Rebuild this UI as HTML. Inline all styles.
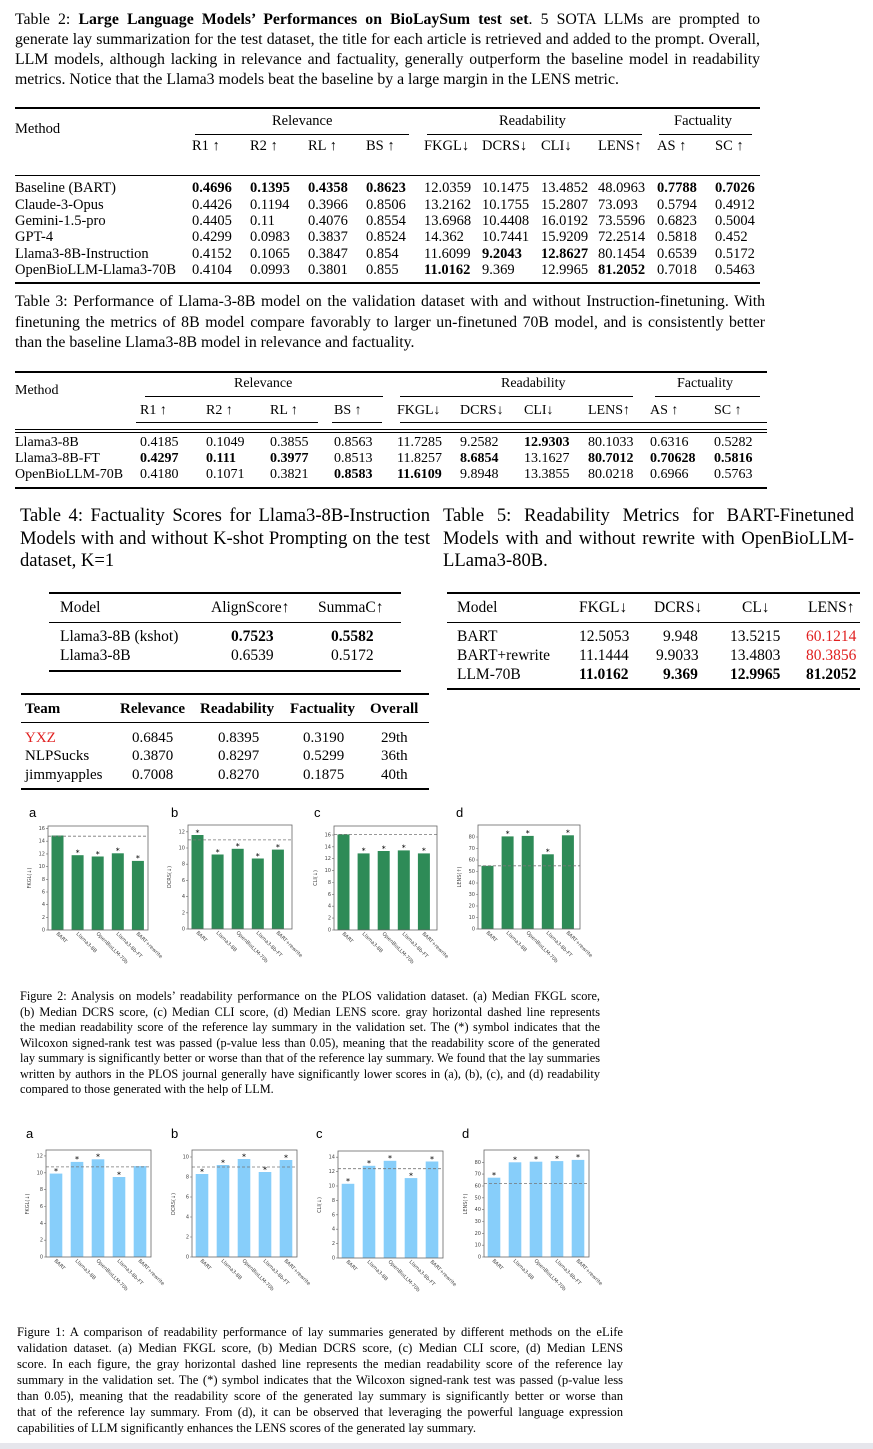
<!DOCTYPE html>
<html><head><meta charset="utf-8">
<style>
body{margin:0;width:873px;height:1449px;background:#fff;position:relative;overflow:hidden;font-family:"Liberation Serif",serif;color:#000}
.a{position:absolute;white-space:nowrap}
.l{position:absolute;white-space:nowrap;text-align:justify;text-align-last:justify}
.r{position:absolute;background:#000}
.row{position:absolute;left:0;width:873px}
.row span{position:absolute;top:0;white-space:nowrap}
b{font-weight:bold}
.red{color:#e02020}
svg text{font-family:"DejaVu Sans",sans-serif}
</style></head><body>

<!-- Table 2 caption -->
<div style="font-size:15.8px;line-height:20px">
<div class="l" style="left:15px;top:10px;width:745px">Table 2: <b>Large Language Models’ Performances on BioLaySum test set</b>. 5 SOTA LLMs are prompted to</div>
<div class="l" style="left:15px;top:30px;width:745px">generate lay summarization for the test dataset, the title for each article is retrieved and added to the prompt. Overall,</div>
<div class="l" style="left:15px;top:50px;width:745px">LLM models, although lacking in relevance and factuality, generally outperform the baseline model in readability</div>
<div class="a" style="left:15px;top:70px">metrics. Notice that the Llama3 models beat the baseline by a large margin in the LENS metric.</div>
</div>

<!-- Table 2 -->
<div class="r" style="left:15px;top:107px;width:745px;height:1.5px"></div>
<div class="r" style="left:195px;top:134px;width:214px;height:.8px"></div>
<div class="r" style="left:427px;top:134px;width:215px;height:.8px"></div>
<div class="r" style="left:659px;top:134px;width:93px;height:.8px"></div>
<div class="r" style="left:15px;top:175px;width:745px;height:1px"></div>
<div class="r" style="left:15px;top:282px;width:745px;height:1.5px"></div>
<div style="font-size:14.5px;line-height:16px">
<div class="row" style="top:113px"><span style="left:272px">Relevance</span><span style="left:499px">Readability</span><span style="left:674px">Factuality</span></div>
<div class="row" style="top:121px"><span style="left:15px">Method</span></div>
<div class="row" style="top:138px"><span style="left:192px">R1 ↑</span><span style="left:250px">R2 ↑</span><span style="left:308px">RL ↑</span><span style="left:366px">BS ↑</span><span style="left:424px">FKGL↓</span><span style="left:482px">DCRS↓</span><span style="left:541px">CLI↓</span><span style="left:598px">LENS↑</span><span style="left:657px">AS ↑</span><span style="left:715px">SC ↑</span></div>
<div class="row" style="top:180px"><span style="left:15px">Baseline (BART)</span><span style="left:192px"><b>0.4696</b></span><span style="left:250px"><b>0.1395</b></span><span style="left:308px"><b>0.4358</b></span><span style="left:366px"><b>0.8623</b></span><span style="left:424px">12.0359</span><span style="left:482px">10.1475</span><span style="left:541px">13.4852</span><span style="left:598px">48.0963</span><span style="left:657px"><b>0.7788</b></span><span style="left:715px"><b>0.7026</b></span></div>
<div class="row" style="top:196.5px"><span style="left:15px">Claude-3-Opus</span><span style="left:192px">0.4426</span><span style="left:250px">0.1194</span><span style="left:308px">0.3966</span><span style="left:366px">0.8506</span><span style="left:424px">13.2162</span><span style="left:482px">10.1755</span><span style="left:541px">15.2807</span><span style="left:598px">73.093</span><span style="left:657px">0.5794</span><span style="left:715px">0.4912</span></div>
<div class="row" style="top:212.8px"><span style="left:15px">Gemini-1.5-pro</span><span style="left:192px">0.4405</span><span style="left:250px">0.11</span><span style="left:308px">0.4076</span><span style="left:366px">0.8554</span><span style="left:424px">13.6968</span><span style="left:482px">10.4408</span><span style="left:541px">16.0192</span><span style="left:598px">73.5596</span><span style="left:657px">0.6823</span><span style="left:715px">0.5004</span></div>
<div class="row" style="top:229px"><span style="left:15px">GPT-4</span><span style="left:192px">0.4299</span><span style="left:250px">0.0983</span><span style="left:308px">0.3837</span><span style="left:366px">0.8524</span><span style="left:424px">14.362</span><span style="left:482px">10.7441</span><span style="left:541px">15.9209</span><span style="left:598px">72.2514</span><span style="left:657px">0.5818</span><span style="left:715px">0.452</span></div>
<div class="row" style="top:245.5px"><span style="left:15px">Llama3-8B-Instruction</span><span style="left:192px">0.4152</span><span style="left:250px">0.1065</span><span style="left:308px">0.3847</span><span style="left:366px">0.854</span><span style="left:424px">11.6099</span><span style="left:482px"><b>9.2043</b></span><span style="left:541px"><b>12.8627</b></span><span style="left:598px">80.1454</span><span style="left:657px">0.6539</span><span style="left:715px">0.5172</span></div>
<div class="row" style="top:261.5px"><span style="left:15px">OpenBioLLM-Llama3-70B</span><span style="left:192px">0.4104</span><span style="left:250px">0.0993</span><span style="left:308px">0.3801</span><span style="left:366px">0.855</span><span style="left:424px"><b>11.0162</b></span><span style="left:482px">9.369</span><span style="left:541px">12.9965</span><span style="left:598px"><b>81.2052</b></span><span style="left:657px">0.7018</span><span style="left:715px">0.5463</span></div>
</div>

<!-- Table 3 caption -->
<div style="font-size:15.8px;line-height:20px">
<div class="l" style="left:15px;top:292px;width:750px">Table 3: Performance of Llama-3-8B model on the validation dataset with and without Instruction-finetuning. With</div>
<div class="l" style="left:15px;top:313px;width:750px">finetuning the metrics of 8B model compare favorably to larger un-finetuned 70B model, and is consistently better</div>
<div class="a" style="left:15px;top:333px">than the baseline Llama3-8B model in relevance and factuality.</div>
</div>

<!-- Table 3 -->
<div class="r" style="left:15px;top:371px;width:752px;height:1.5px"></div>
<div class="r" style="left:145px;top:396px;width:238px;height:.8px"></div>
<div class="r" style="left:400px;top:396px;width:233px;height:.8px"></div>
<div class="r" style="left:655px;top:396px;width:105px;height:.8px"></div>
<div class="r" style="left:136px;top:422px;width:182px;height:.8px"></div>
<div class="r" style="left:332px;top:422px;width:50px;height:.8px"></div>
<div class="r" style="left:400px;top:422px;width:367px;height:.8px"></div>
<div class="r" style="left:15px;top:429px;width:752px;height:.8px"></div>
<div class="r" style="left:15px;top:432px;width:752px;height:.8px"></div>
<div class="r" style="left:15px;top:487px;width:752px;height:1.5px"></div>
<div style="font-size:14px;line-height:16px">
<div class="row" style="top:376px"><span style="left:234px">Relevance</span><span style="left:501px">Readability</span><span style="left:677px">Factuality</span></div>
<div class="row" style="top:383px"><span style="left:15px">Method</span></div>
<div class="row" style="top:403px"><span style="left:140px">R1 ↑</span><span style="left:206px">R2 ↑</span><span style="left:270px">RL ↑</span><span style="left:334px">BS ↑</span><span style="left:397px">FKGL↓</span><span style="left:460px">DCRS↓</span><span style="left:524px">CLI↓</span><span style="left:588px">LENS↑</span><span style="left:650px">AS ↑</span><span style="left:714px">SC ↑</span></div>
<div class="row" style="top:434.5px"><span style="left:15px">Llama3-8B</span><span style="left:140px">0.4185</span><span style="left:206px">0.1049</span><span style="left:270px">0.3855</span><span style="left:334px">0.8563</span><span style="left:397px">11.7285</span><span style="left:460px">9.2582</span><span style="left:524px"><b>12.9303</b></span><span style="left:588px">80.1033</span><span style="left:650px">0.6316</span><span style="left:714px">0.5282</span></div>
<div class="row" style="top:451px"><span style="left:15px">Llama3-8B-FT</span><span style="left:140px"><b>0.4297</b></span><span style="left:206px"><b>0.111</b></span><span style="left:270px"><b>0.3977</b></span><span style="left:334px">0.8513</span><span style="left:397px">11.8257</span><span style="left:460px"><b>8.6854</b></span><span style="left:524px">13.1627</span><span style="left:588px"><b>80.7012</b></span><span style="left:650px"><b>0.70628</b></span><span style="left:714px"><b>0.5816</b></span></div>
<div class="row" style="top:467px"><span style="left:15px">OpenBioLLM-70B</span><span style="left:140px">0.4180</span><span style="left:206px">0.1071</span><span style="left:270px">0.3821</span><span style="left:334px"><b>0.8583</b></span><span style="left:397px"><b>11.6109</b></span><span style="left:460px">9.8948</span><span style="left:524px">13.3855</span><span style="left:588px">80.0218</span><span style="left:650px">0.6966</span><span style="left:714px">0.5763</span></div>
</div>

<!-- Table 4 / 5 captions -->
<div style="font-size:18.6px;line-height:22.5px">
<div class="l" style="left:20px;top:505px;width:410px">Table 4: Factuality Scores for Llama3-8B-Instruction</div>
<div class="l" style="left:20px;top:527.5px;width:410px">Models with and without K-shot Prompting on the test</div>
<div class="a" style="left:20px;top:550px">dataset, K=1</div>
<div class="l" style="left:443px;top:505px;width:411px">Table 5: Readability Metrics for BART-Finetuned</div>
<div class="l" style="left:443px;top:527.5px;width:411px">Models with and without rewrite with OpenBioLLM-</div>
<div class="a" style="left:443px;top:550px">LLama3-80B.</div>
</div>

<!-- Table 4 -->
<div class="r" style="left:49px;top:592px;width:352px;height:1.5px"></div>
<div class="r" style="left:49px;top:622px;width:352px;height:1px"></div>
<div class="r" style="left:49px;top:670px;width:352px;height:1.5px"></div>
<!-- Table 5 -->
<div class="r" style="left:447px;top:592px;width:413px;height:1.5px"></div>
<div class="r" style="left:447px;top:622px;width:413px;height:1px"></div>
<div class="r" style="left:447px;top:688px;width:413px;height:1.5px"></div>
<div style="font-size:15.5px;line-height:18px">
<div class="row" style="top:599px"><span style="left:60px">Model</span><span style="left:211px">AlignScore↑</span><span style="left:318px">SummaC↑</span>
<span style="left:457px">Model</span><span style="left:579px">FKGL↓</span><span style="left:654px">DCRS↓</span><span style="left:742px">CL↓</span><span style="left:808px">LENS↑</span></div>
<div class="row" style="top:628px"><span style="left:60px">Llama3-8B (kshot)</span><span style="left:231px"><b>0.7523</b></span><span style="left:331px"><b>0.5582</b></span>
<span style="left:457px">BART</span><span style="left:579px">12.5053</span><span style="left:663px">9.948</span><span style="left:730px">13.5215</span><span class="red" style="left:806px">60.1214</span></div>
<div class="row" style="top:647px"><span style="left:60px">Llama3-8B</span><span style="left:231px">0.6539</span><span style="left:331px">0.5172</span>
<span style="left:457px">BART+rewrite</span><span style="left:579px">11.1444</span><span style="left:656px">9.9033</span><span style="left:730px">13.4803</span><span class="red" style="left:806px">80.3856</span></div>
<div class="row" style="top:666px"><span style="left:457px">LLM-70B</span><span style="left:579px"><b>11.0162</b></span><span style="left:663px"><b>9.369</b></span><span style="left:730px"><b>12.9965</b></span><span style="left:806px"><b>81.2052</b></span></div>
</div>

<!-- Team table -->
<div class="r" style="left:21px;top:693px;width:408px;height:1.5px"></div>
<div class="r" style="left:21px;top:722px;width:408px;height:1px"></div>
<div class="r" style="left:21px;top:788px;width:408px;height:1.5px"></div>
<div style="font-size:15px;line-height:18px">
<div class="row" style="top:700px;font-weight:bold"><span style="left:25px">Team</span><span style="left:120px">Relevance</span><span style="left:200px">Readability</span><span style="left:290px">Factuality</span><span style="left:370px">Overall</span></div>
<div class="row" style="top:729px"><span class="red" style="left:25px">YXZ</span><span style="left:132px">0.6845</span><span style="left:218px">0.8395</span><span style="left:303px">0.3190</span><span style="left:381px">29th</span></div>
<div class="row" style="top:747px"><span style="left:25px">NLPSucks</span><span style="left:132px">0.3870</span><span style="left:218px">0.8297</span><span style="left:303px">0.5299</span><span style="left:381px">36th</span></div>
<div class="row" style="top:766px"><span style="left:25px">jimmyapples</span><span style="left:132px">0.7008</span><span style="left:218px">0.8270</span><span style="left:303px">0.1875</span><span style="left:381px">40th</span></div>
</div>

<!-- Figure 2 -->
<svg class="a" style="left:0;top:800px" width="873" height="190" viewBox="0 0 873 190">
<g font-size="13">
<text x="29" y="17" style="font-family:'Liberation Sans'">a</text><text x="171" y="17" style="font-family:'Liberation Sans'">b</text><text x="314" y="17" style="font-family:'Liberation Sans'">c</text><text x="456" y="17" style="font-family:'Liberation Sans'">d</text></g>
<!-- a -->
<g transform="translate(48,26)" font-size="5" fill="#444">
<g fill="#2e8b57"><rect x="3.5" y="9.5" width="12" height="94.5"/><rect x="23.6" y="29.2" width="12" height="74.8"/><rect x="43.7" y="30.5" width="12" height="73.5"/><rect x="63.8" y="27.3" width="12" height="76.7"/><rect x="83.9" y="34.9" width="12" height="69.1"/></g>
<line x1="0" x2="100" y1="10.2" y2="10.2" stroke="#777" stroke-width=".8" stroke-dasharray="3,2"/>
<rect width="100" height="104" fill="none" stroke="#666" stroke-width=".8"/>
<path d="M-2 104H0M-2 91.3H0M-2 78.6H0M-2 66H0M-2 53.3H0M-2 40.6H0M-2 27.9H0M-2 15.2H0M-2 2.6H0" stroke="#666" stroke-width=".6"/>
<g text-anchor="end"><text x="-3" y="105.5">0</text><text x="-3" y="92.8">2</text><text x="-3" y="80.1">4</text><text x="-3" y="67.5">6</text><text x="-3" y="54.8">8</text><text x="-3" y="42.1">10</text><text x="-3" y="29.4">12</text><text x="-3" y="16.7">14</text><text x="-3" y="4.1">16</text></g>
<g font-size="8" fill="#000" text-anchor="middle"><text x="29.6" y="29.5">*</text><text x="49.7" y="30.8">*</text><text x="69.8" y="27.6">*</text><text x="89.9" y="35.2">*</text></g>
<text transform="translate(-17,52) rotate(-90)" text-anchor="middle">FKGL(↓)</text>
<g><text transform="translate(8,108) rotate(45)">BART</text><text transform="translate(28,108) rotate(45)">Llama3-8B</text><text transform="translate(48,108) rotate(45)">OpenBioLLM-70b</text><text transform="translate(68,108) rotate(45)">Llama3-8b-FT</text><text transform="translate(88,108) rotate(45)">BART+rewrite</text></g>
</g>
<!-- b -->
<g transform="translate(188,25)" font-size="5" fill="#444">
<g fill="#2e8b57"><rect x="3.5" y="10" width="12" height="94"/><rect x="23.6" y="29.5" width="12" height="74.5"/><rect x="43.7" y="23.8" width="12" height="80.2"/><rect x="63.8" y="33.5" width="12" height="70.5"/><rect x="83.9" y="24.6" width="12" height="79.4"/></g>
<line x1="0" x2="104" y1="14.9" y2="14.9" stroke="#777" stroke-width=".8" stroke-dasharray="3,2"/>
<rect width="104" height="104" fill="none" stroke="#666" stroke-width=".8"/>
<path d="M-2 104H0M-2 87.8H0M-2 71.6H0M-2 55.4H0M-2 39.2H0M-2 23H0M-2 6.8H0" stroke="#666" stroke-width=".6"/>
<g text-anchor="end"><text x="-3" y="105.5">0</text><text x="-3" y="89.3">2</text><text x="-3" y="73.1">4</text><text x="-3" y="56.9">6</text><text x="-3" y="40.7">8</text><text x="-3" y="24.5">10</text><text x="-3" y="8.3">12</text></g>
<g font-size="8" fill="#000" text-anchor="middle"><text x="9.5" y="10.3">*</text><text x="29.6" y="29.8">*</text><text x="49.7" y="24.1">*</text><text x="69.8" y="33.8">*</text><text x="89.9" y="24.9">*</text></g>
<text transform="translate(-17,52) rotate(-90)" text-anchor="middle">DCRS(↓)</text>
<g><text transform="translate(8,108) rotate(45)">BART</text><text transform="translate(28,108) rotate(45)">Llama3-8B</text><text transform="translate(48,108) rotate(45)">OpenBioLLM-70b</text><text transform="translate(68,108) rotate(45)">Llama3-8b-FT</text><text transform="translate(88,108) rotate(45)">BART+rewrite</text></g>
</g>
<!-- c -->
<g transform="translate(334,26)" font-size="5" fill="#444">
<g fill="#2e8b57"><rect x="3.5" y="8.4" width="12" height="95.6"/><rect x="23.6" y="27.4" width="12" height="76.6"/><rect x="43.7" y="25" width="12" height="79"/><rect x="63.8" y="24.4" width="12" height="79.6"/><rect x="83.9" y="27.4" width="12" height="76.6"/></g>
<line x1="0" x2="103" y1="8.4" y2="8.4" stroke="#777" stroke-width=".8" stroke-dasharray="3,2"/>
<rect width="103" height="104" fill="none" stroke="#666" stroke-width=".8"/>
<path d="M-2 104H0M-2 92.1H0M-2 80.2H0M-2 68.4H0M-2 56.5H0M-2 44.6H0M-2 32.7H0M-2 20.8H0M-2 9H0" stroke="#666" stroke-width=".6"/>
<g text-anchor="end"><text x="-3" y="105.5">0</text><text x="-3" y="93.6">2</text><text x="-3" y="81.7">4</text><text x="-3" y="69.9">6</text><text x="-3" y="58">8</text><text x="-3" y="46.1">10</text><text x="-3" y="34.2">12</text><text x="-3" y="22.3">14</text><text x="-3" y="10.5">16</text></g>
<g font-size="8" fill="#000" text-anchor="middle"><text x="29.6" y="27.7">*</text><text x="49.7" y="25.3">*</text><text x="69.8" y="24.7">*</text><text x="89.9" y="27.7">*</text></g>
<text transform="translate(-17,52) rotate(-90)" text-anchor="middle">CLI(↓)</text>
<g><text transform="translate(8,108) rotate(45)">BART</text><text transform="translate(28,108) rotate(45)">Llama3-8B</text><text transform="translate(48,108) rotate(45)">OpenBioLLM-70b</text><text transform="translate(68,108) rotate(45)">Llama3-8b-FT</text><text transform="translate(88,108) rotate(45)">BART+rewrite</text></g>
</g>
<!-- d -->
<g transform="translate(478,25)" font-size="5" fill="#444">
<g fill="#2e8b57"><rect x="3.5" y="40.8" width="12" height="63.2"/><rect x="23.6" y="11.4" width="12" height="92.6"/><rect x="43.7" y="10.9" width="12" height="93.1"/><rect x="63.8" y="29.3" width="12" height="74.7"/><rect x="83.9" y="10.3" width="12" height="93.7"/></g>
<line x1="0" x2="102" y1="40.8" y2="40.8" stroke="#777" stroke-width=".8" stroke-dasharray="3,2"/>
<rect width="102" height="104" fill="none" stroke="#666" stroke-width=".8"/>
<path d="M-2 104H0M-2 92.5H0M-2 81H0M-2 69.5H0M-2 58H0M-2 46.5H0M-2 35H0M-2 23.5H0M-2 12H0" stroke="#666" stroke-width=".6"/>
<g text-anchor="end"><text x="-3" y="105.5">0</text><text x="-3" y="94">10</text><text x="-3" y="82.5">20</text><text x="-3" y="71">30</text><text x="-3" y="59.5">40</text><text x="-3" y="48">50</text><text x="-3" y="36.5">60</text><text x="-3" y="25">70</text><text x="-3" y="13.5">80</text></g>
<g font-size="8" fill="#000" text-anchor="middle"><text x="29.6" y="11.7">*</text><text x="49.7" y="11.2">*</text><text x="69.8" y="29.6">*</text><text x="89.9" y="10.6">*</text></g>
<text transform="translate(-17,52) rotate(-90)" text-anchor="middle">LENS(↑)</text>
<g><text transform="translate(8,108) rotate(45)">BART</text><text transform="translate(28,108) rotate(45)">Llama3-8B</text><text transform="translate(48,108) rotate(45)">OpenBioLLM-70b</text><text transform="translate(68,108) rotate(45)">Llama3-8b-FT</text><text transform="translate(88,108) rotate(45)">BART+rewrite</text></g>
</g>
</svg>

<!-- Figure 2 caption -->
<div style="font-size:12.3px;line-height:15.5px">
<div class="l" style="left:20px;top:989px;width:580px">Figure 2: Analysis on models’ readability performance on the PLOS validation dataset. (a) Median FKGL score,</div>
<div class="l" style="left:20px;top:1004.5px;width:580px">(b) Median DCRS score, (c) Median CLI score, (d) Median LENS score. gray horizontal dashed line represents</div>
<div class="l" style="left:20px;top:1020px;width:580px">the median readability score of the reference lay summary in the validation set. The (*) symbol indicates that the</div>
<div class="l" style="left:20px;top:1035.5px;width:580px">Wilcoxon signed-rank test was passed (p-value less than 0.05), meaning that the readability score of the generated</div>
<div class="l" style="left:20px;top:1051px;width:580px">lay summary is significantly better or worse than that of the reference lay summary. We found that the lay summaries</div>
<div class="l" style="left:20px;top:1066.5px;width:580px">written by authors in the PLOS journal generally have significantly lower scores in (a), (b), (c), and (d) readability</div>
<div class="a" style="left:20px;top:1082px">compared to those generated with the help of LLM.</div>
</div>

<!-- Figure 1 -->
<svg class="a" style="left:0;top:1120px" width="873" height="200" viewBox="0 0 873 200">
<g font-size="13"><text x="26" y="18" style="font-family:'Liberation Sans'">a</text><text x="171" y="18" style="font-family:'Liberation Sans'">b</text><text x="316" y="18" style="font-family:'Liberation Sans'">c</text><text x="462" y="18" style="font-family:'Liberation Sans'">d</text></g>
<!-- a -->
<g transform="translate(46,30)" font-size="5" fill="#444">
<g fill="#87cefa"><rect x="3.7" y="23.6" width="12.6" height="83.4"/><rect x="24.7" y="11.9" width="12.6" height="95.1"/><rect x="45.7" y="9.3" width="12.6" height="97.7"/><rect x="66.7" y="27" width="12.6" height="80"/><rect x="87.7" y="16.1" width="12.6" height="90.9"/></g>
<line x1="0" x2="105" y1="16.9" y2="16.9" stroke="#777" stroke-width=".8" stroke-dasharray="3,2"/>
<rect width="105" height="107" fill="none" stroke="#666" stroke-width=".8"/>
<path d="M-2 107H0M-2 90.2H0M-2 73.3H0M-2 56.5H0M-2 39.6H0M-2 22.8H0M-2 5.9H0" stroke="#666" stroke-width=".6"/>
<g text-anchor="end"><text x="-3" y="108.5">0</text><text x="-3" y="91.7">2</text><text x="-3" y="74.8">4</text><text x="-3" y="58">6</text><text x="-3" y="41.1">8</text><text x="-3" y="24.3">10</text><text x="-3" y="7.4">12</text></g>
<g font-size="8" fill="#000" text-anchor="middle"><text x="10" y="23.9">*</text><text x="31" y="12.2">*</text><text x="52" y="9.6">*</text><text x="73" y="27.3">*</text></g>
<text transform="translate(-17,54) rotate(-90)" text-anchor="middle">FKGL(↓)</text>
<g><text transform="translate(8,111) rotate(45)">BART</text><text transform="translate(29,111) rotate(45)">Llama3-8B</text><text transform="translate(50,111) rotate(45)">OpenBioLLM-70b</text><text transform="translate(71,111) rotate(45)">Llama3-8b-FT</text><text transform="translate(92,111) rotate(45)">BART+rewrite</text></g>
</g>
<!-- b -->
<g transform="translate(192,30)" font-size="5" fill="#444">
<g fill="#87cefa"><rect x="3.7" y="24" width="12.6" height="83"/><rect x="24.7" y="15" width="12.6" height="92"/><rect x="45.7" y="9" width="12.6" height="98"/><rect x="66.7" y="22" width="12.6" height="85"/><rect x="87.7" y="10" width="12.6" height="97"/></g>
<line x1="0" x2="105" y1="17" y2="17" stroke="#777" stroke-width=".8" stroke-dasharray="3,2"/>
<rect width="105" height="107" fill="none" stroke="#666" stroke-width=".8"/>
<path d="M-2 107H0M-2 87H0M-2 67H0M-2 47H0M-2 27H0M-2 7H0" stroke="#666" stroke-width=".6"/>
<g text-anchor="end"><text x="-3" y="108.5">0</text><text x="-3" y="88.5">2</text><text x="-3" y="68.5">4</text><text x="-3" y="48.5">6</text><text x="-3" y="28.5">8</text><text x="-3" y="8.5">10</text></g>
<g font-size="8" fill="#000" text-anchor="middle"><text x="10" y="24.3">*</text><text x="31" y="15.3">*</text><text x="52" y="9.3">*</text><text x="73" y="22.3">*</text><text x="94" y="10.3">*</text></g>
<text transform="translate(-17,54) rotate(-90)" text-anchor="middle">DCRS(↓)</text>
<g><text transform="translate(8,111) rotate(45)">BART</text><text transform="translate(29,111) rotate(45)">Llama3-8B</text><text transform="translate(50,111) rotate(45)">OpenBioLLM-70b</text><text transform="translate(71,111) rotate(45)">Llama3-8b-FT</text><text transform="translate(92,111) rotate(45)">BART+rewrite</text></g>
</g>
<!-- c -->
<g transform="translate(338,31)" font-size="5" fill="#444">
<g fill="#87cefa"><rect x="3.7" y="32.8" width="12.6" height="74.2"/><rect x="24.7" y="14.8" width="12.6" height="92.2"/><rect x="45.7" y="9.8" width="12.6" height="97.2"/><rect x="66.7" y="27.1" width="12.6" height="79.9"/><rect x="87.7" y="10.5" width="12.6" height="96.5"/></g>
<line x1="0" x2="105" y1="17.7" y2="17.7" stroke="#777" stroke-width=".8" stroke-dasharray="3,2"/>
<rect width="105" height="107" fill="none" stroke="#666" stroke-width=".8"/>
<path d="M-2 107H0M-2 92.6H0M-2 78.2H0M-2 63.8H0M-2 49.4H0M-2 35H0M-2 20.6H0M-2 6.2H0" stroke="#666" stroke-width=".6"/>
<g text-anchor="end"><text x="-3" y="108.5">0</text><text x="-3" y="94.1">2</text><text x="-3" y="79.7">4</text><text x="-3" y="65.3">6</text><text x="-3" y="50.9">8</text><text x="-3" y="36.5">10</text><text x="-3" y="22.1">12</text><text x="-3" y="7.7">14</text></g>
<g font-size="8" fill="#000" text-anchor="middle"><text x="10" y="33.1">*</text><text x="31" y="15.1">*</text><text x="52" y="10.1">*</text><text x="73" y="27.4">*</text><text x="94" y="10.8">*</text></g>
<text transform="translate(-17,54) rotate(-90)" text-anchor="middle">CLI(↓)</text>
<g><text transform="translate(8,111) rotate(45)">BART</text><text transform="translate(29,111) rotate(45)">Llama3-8B</text><text transform="translate(50,111) rotate(45)">OpenBioLLM-70b</text><text transform="translate(71,111) rotate(45)">Llama3-8b-FT</text><text transform="translate(92,111) rotate(45)">BART+rewrite</text></g>
</g>
<!-- d -->
<g transform="translate(484,30)" font-size="5" fill="#444">
<g fill="#87cefa"><rect x="3.7" y="27.7" width="12.6" height="79.3"/><rect x="24.7" y="12.3" width="12.6" height="94.7"/><rect x="45.7" y="11.7" width="12.6" height="95.3"/><rect x="66.7" y="11.1" width="12.6" height="95.9"/><rect x="87.7" y="9.9" width="12.6" height="97.1"/></g>
<line x1="0" x2="105" y1="33.6" y2="33.6" stroke="#777" stroke-width=".8" stroke-dasharray="3,2"/>
<rect width="105" height="107" fill="none" stroke="#666" stroke-width=".8"/>
<path d="M-2 107H0M-2 95.2H0M-2 83.3H0M-2 71.5H0M-2 59.6H0M-2 47.8H0M-2 36H0M-2 24.1H0M-2 12.3H0" stroke="#666" stroke-width=".6"/>
<g text-anchor="end"><text x="-3" y="108.5">0</text><text x="-3" y="96.7">10</text><text x="-3" y="84.8">20</text><text x="-3" y="73">30</text><text x="-3" y="61.1">40</text><text x="-3" y="49.3">50</text><text x="-3" y="37.5">60</text><text x="-3" y="25.6">70</text><text x="-3" y="13.8">80</text></g>
<g font-size="8" fill="#000" text-anchor="middle"><text x="10" y="28">*</text><text x="31" y="12.6">*</text><text x="52" y="12">*</text><text x="73" y="11.4">*</text><text x="94" y="10.2">*</text></g>
<text transform="translate(-17,54) rotate(-90)" text-anchor="middle">LENS(↑)</text>
<g><text transform="translate(8,111) rotate(45)">BART</text><text transform="translate(29,111) rotate(45)">Llama3-8B</text><text transform="translate(50,111) rotate(45)">OpenBioLLM-70b</text><text transform="translate(71,111) rotate(45)">Llama3-8b-FT</text><text transform="translate(92,111) rotate(45)">BART+rewrite</text></g>
</g>
</svg>

<!-- Figure 1 caption -->
<div style="font-size:12.6px;line-height:16px">
<div class="l" style="left:17px;top:1324px;width:606px">Figure 1: A comparison of readability performance of lay summaries generated by different methods on the eLife</div>
<div class="l" style="left:17px;top:1340px;width:606px">validation dataset. (a) Median FKGL score, (b) Median DCRS score, (c) Median CLI score, (d) Median LENS</div>
<div class="l" style="left:17px;top:1356px;width:606px">score. In each figure, the gray horizontal dashed line represents the median readability score of the reference lay</div>
<div class="l" style="left:17px;top:1372px;width:606px">summary in the validation set. The (*) symbol indicates that the Wilcoxon signed-rank test was passed (p-value less</div>
<div class="l" style="left:17px;top:1388px;width:606px">than 0.05), meaning that the readability score of the generated lay summary is significantly better or worse than</div>
<div class="l" style="left:17px;top:1404px;width:606px">that of the reference lay summary. From (d), it can be observed that leveraging the powerful language expression</div>
<div class="a" style="left:17px;top:1420px">capabilities of LLM significantly enhances the LENS scores of the generated lay summary.</div>
</div>

<div class="a" style="left:0;top:1443px;width:873px;height:6px;background:#e6e6ec"></div>
</body></html>
